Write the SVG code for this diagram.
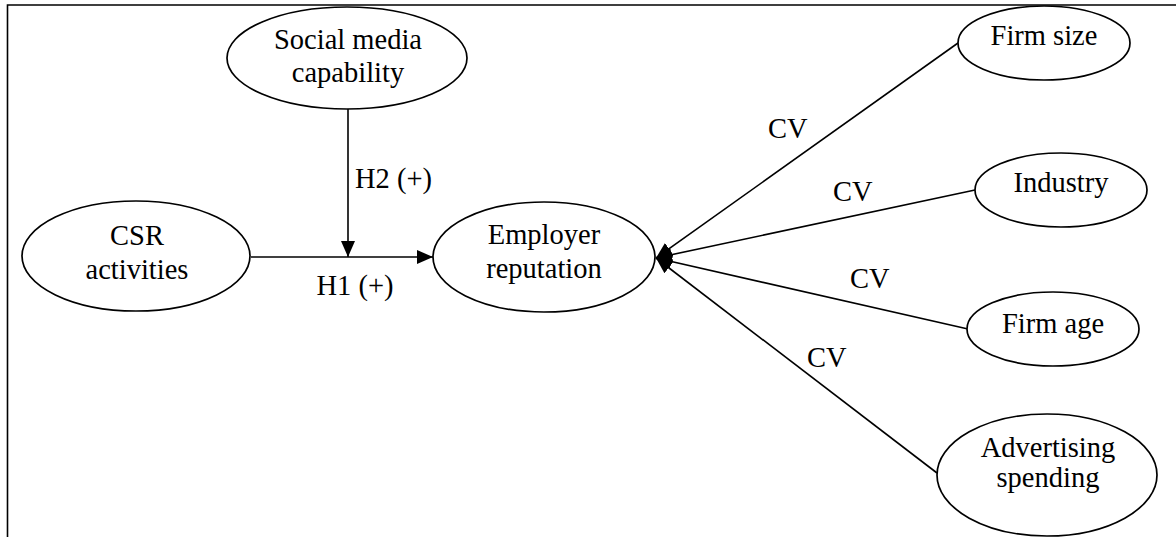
<svg xmlns="http://www.w3.org/2000/svg" width="1176" height="537" viewBox="0 0 1176 537">
<style>
.node ellipse{fill:#fff;stroke:#000;stroke-width:1.7}
text{font-family:"Liberation Serif","Times New Roman",serif;font-size:28.5px;fill:#000}
.c{text-anchor:middle}
.edge{stroke:#000;fill:none;stroke-width:1.6}
</style>
<defs>
<marker id="ah" markerUnits="userSpaceOnUse" markerWidth="18" markerHeight="16" refX="16" refY="7" orient="auto">
<path d="M0,0 L16,7 L0,14 z" fill="#000"/>
</marker>
</defs>
<rect width="1176" height="537" fill="#fff"/>
<g id="frame">
<path d="M7.5,537 L7.5,5 L1176,5" fill="none" stroke="#000" stroke-width="1.6"/>
</g>
<g id="connectors">
<line class="edge" x1="251" y1="257" x2="433" y2="257" marker-end="url(#ah)"/>
<line class="edge" x1="348" y1="109" x2="348" y2="257" marker-end="url(#ah)"/>
<line class="edge" x1="958" y1="43" x2="656" y2="258" stroke-width="1.3" marker-end="url(#ah)"/>
<line class="edge" x1="975" y1="190" x2="656" y2="258" stroke-width="2.4" marker-end="url(#ah)"/>
<line class="edge" x1="968" y1="329" x2="656" y2="258" stroke-width="1.9" marker-end="url(#ah)"/>
<line class="edge" x1="937" y1="473" x2="656" y2="258" stroke-width="1.5" marker-end="url(#ah)"/>
<text x="355" y="188">H2 (+)</text>
<text x="355" y="295" class="c">H1 (+)</text>
<text x="768" y="138">CV</text>
<text x="833" y="201">CV</text>
<text x="850" y="288">CV</text>
<text x="807" y="367">CV</text>
</g>
<g id="social" class="node">
<ellipse cx="347" cy="58" rx="120" ry="51"/>
<text x="348" y="49" class="c">Social media</text>
<text x="348" y="82" class="c">capability</text>
</g>
<g id="csr" class="node">
<ellipse cx="136" cy="256" rx="114" ry="55"/>
<text x="137" y="245" class="c">CSR</text>
<text x="137" y="279" class="c">activities</text>
</g>
<g id="employer" class="node">
<ellipse cx="544" cy="257" rx="111" ry="55"/>
<text x="544" y="244" class="c">Employer</text>
<text x="544" y="278" class="c">reputation</text>
</g>
<g id="firmsize" class="node">
<ellipse cx="1044" cy="43" rx="86" ry="37"/>
<text x="1044" y="45" class="c">Firm size</text>
</g>
<g id="industry" class="node">
<ellipse cx="1061" cy="190" rx="86" ry="37"/>
<text x="1061" y="192" class="c">Industry</text>
</g>
<g id="firmage" class="node">
<ellipse cx="1053" cy="329" rx="86" ry="37"/>
<text x="1053" y="333" class="c">Firm age</text>
</g>
<g id="advertising" class="node">
<ellipse cx="1047" cy="475" rx="110" ry="61"/>
<text x="1048" y="457" class="c">Advertising</text>
<text x="1048" y="487" class="c">spending</text>
</g>
</svg>
